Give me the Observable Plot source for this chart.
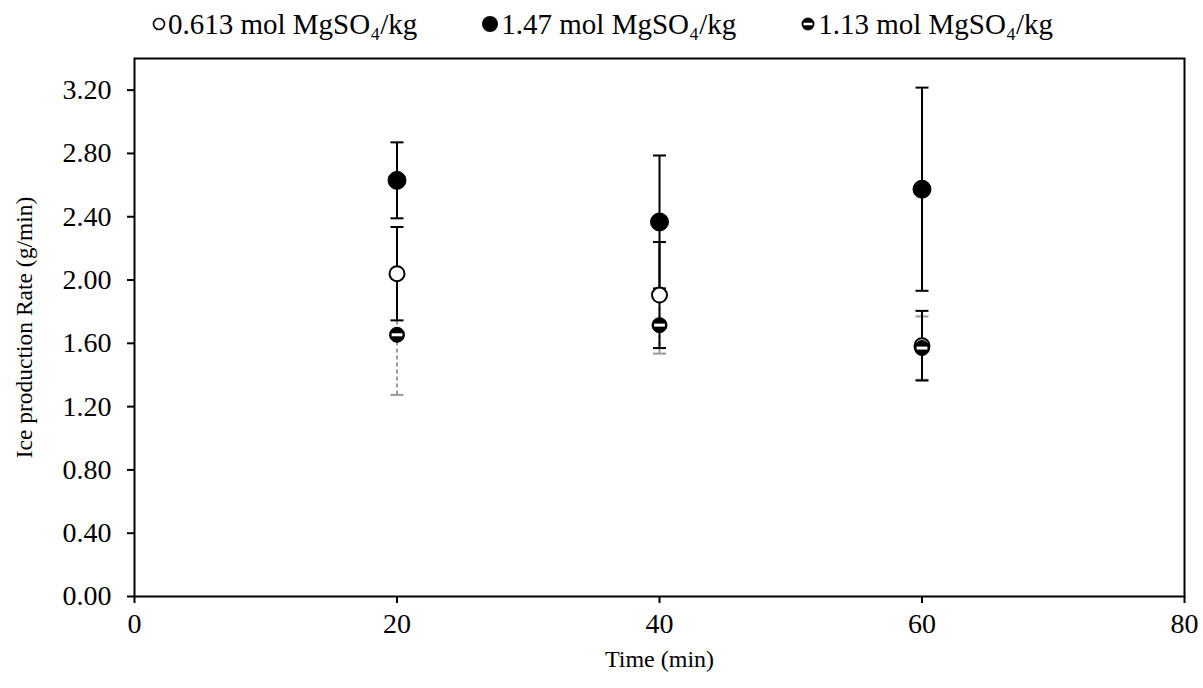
<!DOCTYPE html>
<html>
<head>
<meta charset="utf-8">
<script src="https://cdn.jsdelivr.net/npm/d3@7"></script>
<script src="https://cdn.jsdelivr.net/npm/@observablehq/plot@0.6"></script>
<style>
  html, body { margin: 0; padding: 0; background: #fff; }
  body { width: 1203px; height: 688px; overflow: hidden; font-family: "Liberation Serif", "DejaVu Serif", serif; }
  #legend { height: 48px; display: flex; justify-content: center; align-items: center; font-size: 29px; color: #000; padding-left: 2px; }
  #legend .item { display: flex; align-items: center; margin: 0 32px; }
  #legend svg { margin-right: 2px; }
</style>
</head>
<body>
<div id="legend"></div>
<div id="chart"></div>
<script>
// ---- data ----
const times = [20, 40, 60];
const seriesNames = ["0.613 mol MgSO₄/kg", "1.47 mol MgSO₄/kg", "1.13 mol MgSO₄/kg"];
const mean0613 = [2.04, 1.905, 1.585];
const err0613  = [0.295, 0.335, 0.22];
const mean147  = [2.63, 2.367, 2.574];
const err147   = [0.24, 0.42, 0.642];
const mean113  = [1.654, 1.715, 1.57];
const err113   = [0.38, 0.18, 0.20];
const yTicks = [0, 0.4, 0.8, 1.2, 1.6, 2.0, 2.4, 2.8, 3.2];
const xTicks = [0, 20, 40, 60, 80];

function rows(means, errs) {
  return times.map((t, i) => ({t, y: means[i], lo: means[i] - errs[i], hi: means[i] + errs[i]}));
}
const d0613 = rows(mean0613, err0613);
const d147 = rows(mean147, err147);
const d113 = rows(mean113, err113);

// custom symbols
const capSymbol = {draw(ctx) { ctx.moveTo(-6.5, 0); ctx.lineTo(6.5, 0); }};
const stripeSymbol = {draw(ctx, size) {
  const r = Math.sqrt(size / Math.PI);
  ctx.rect(-r * 0.72, -r * 0.2, r * 1.44, r * 0.4);
}};

function errMarks(data, color, dash) {
  return [
    Plot.ruleX(data, {x: "t", y1: "lo", y2: "hi", stroke: color, strokeWidth: 2, strokeDasharray: dash}),
    Plot.dot(data, {x: "t", y: "lo", symbol: capSymbol, stroke: color, strokeWidth: 2, r: 6}),
    Plot.dot(data, {x: "t", y: "hi", symbol: capSymbol, stroke: color, strokeWidth: 2, r: 6})
  ];
}

const chart = Plot.plot({
  width: 1203,
  height: 640,
  marginLeft: 134,
  marginRight: 19,
  marginTop: 10,
  marginBottom: 92,
  style: {fontFamily: "Liberation Serif, serif", fontSize: "28px", color: "#000", background: "#fff"},
  x: {domain: [0, 80], label: null},
  y: {domain: [0, 3.4], label: null},
  marks: [
    Plot.frame({stroke: "#000", strokeWidth: 2}),
    Plot.axisX({ticks: xTicks, tickFormat: d => d, tickSize: 7, tickPadding: 10, strokeWidth: 2, fontSize: 28, label: null}),
    Plot.axisY({ticks: yTicks, tickFormat: d => d.toFixed(2), tickSize: 7, tickPadding: 16, strokeWidth: 2, fontSize: 28, label: null}),
    ...errMarks(d113, "#9a9a9a", "4,3"),
    ...errMarks(d0613, "#000", null),
    ...errMarks(d147, "#000", null),
    Plot.dot(d0613, {x: "t", y: "y", r: 7.5, fill: "#fff", stroke: "#000", strokeWidth: 2}),
    Plot.dot(d147, {x: "t", y: "y", r: 9, fill: "#000", stroke: "#000", strokeWidth: 1}),
    Plot.dot(d113, {x: "t", y: "y", r: 7.5, fill: "#000", stroke: "#000", strokeWidth: 1}),
    Plot.dot(d113, {x: "t", y: "y", r: 7.5, symbol: stripeSymbol, fill: "#fff", stroke: "none"}),
    Plot.text(["Time (min)"], {frameAnchor: "bottom", dy: 70, fontSize: 24, fill: "#000"}),
    Plot.text(["Ice production Rate (g/min)"], {frameAnchor: "left", textAnchor: "middle", dx: -110, rotate: -90, fontSize: 23.5, fill: "#000"})
  ]
});
document.getElementById("chart").appendChild(chart);

// legend
const legend = document.getElementById("legend");
const icons = [
  '<svg width="14" height="14"><circle cx="7" cy="7" r="5.5" fill="#fff" stroke="#000" stroke-width="1.6"/></svg>',
  '<svg width="18" height="18"><circle cx="9" cy="9" r="8" fill="#000"/></svg>',
  '<svg width="16" height="16"><circle cx="8" cy="8" r="6.5" fill="#000"/><rect x="3.5" y="6.7" width="9" height="2.6" fill="#fff"/></svg>'
];
seriesNames.forEach((name, i) => {
  const item = document.createElement("span");
  item.className = "item";
  item.innerHTML = icons[i] + "<span>" + name + "</span>";
  legend.appendChild(item);
});
</script>
</body>
</html>
